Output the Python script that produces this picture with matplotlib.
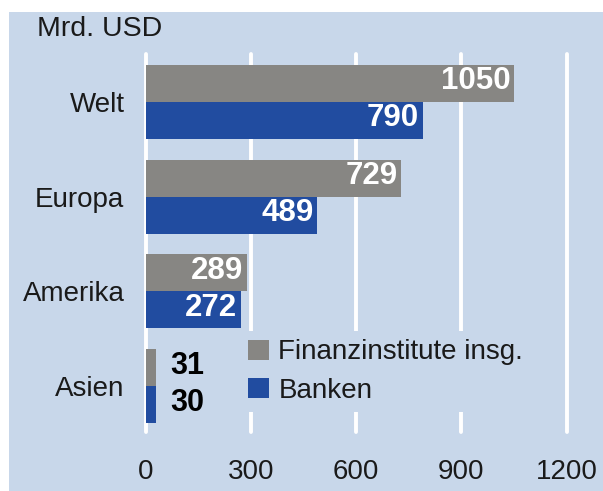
import numpy as np
import matplotlib
matplotlib.use('Agg')
import matplotlib.pyplot as plt
from matplotlib.patches import Rectangle, Patch

# data
regions = ['Welt', 'Europa', 'Amerika', 'Asien']
finanz = [1050, 729, 289, 31]
banken = [790, 489, 272, 30]
series_names = ['Finanzinstitute insg.', 'Banken']
xticks = [0, 300, 600, 900, 1200]
unit = 'Mrd. USD'

# colours
panel_col = '#c8d7ea'
grey_col = '#878683'
blue_col = '#214ca0'
text_col = '#1a1a1a'

plt.rcParams['font.family'] = ['Liberation Sans', 'DejaVu Sans']
fs = 20

W, H = 603, 491
fig = plt.figure(figsize=(W / 100, H / 100), dpi=100)
fig.patch.set_facecolor('white')

# blue panel behind everything (pixel box 9..603 x 12..491)
fig.patches.append(Rectangle((9 / W, 0), 1 - 9 / W, 1 - 12 / H,
                             transform=fig.transFigure, facecolor=panel_col,
                             edgecolor='none', zorder=-5))

# axes box in pixels
ax_l, ax_r, ax_t, ax_b = 130, 590, 45, 440
ax = fig.add_axes([ax_l / W, 1 - ax_b / H, (ax_r - ax_l) / W, (ax_b - ax_t) / H])
ax.set_zorder(1)
ax.set_facecolor('none')
for s in ax.spines.values():
    s.set_visible(False)

pxu = 0.3509          # pixels per unit
x0 = 145.5            # pixel of value 0
ax.set_xlim((ax_l - x0) / pxu, (ax_r - x0) / pxu)
step = 94.67          # pixels between groups
y0 = 102              # pixel of first group centre
ax.set_ylim((ax_b - y0) / step, (ax_t - y0) / step)

y = np.arange(len(regions))
h = 37 / step

# white vertical grid lines
ax.vlines(xticks, (54 - y0) / step, (432 - y0) / step, colors='white',
          linewidth=2.8, zorder=1, capstyle='round')

ax.barh(y - h / 2, finanz, height=h, color=grey_col, zorder=2)
ax.barh(y + h / 2, banken, height=h, color=blue_col, zorder=2)

# value labels
for vals, off in ((finanz, -h / 2), (banken, h / 2)):
    for i, v in enumerate(vals):
        if v > 100:
            ax.annotate(str(v), (v, i + off), xytext=(-2.5, 1.5), textcoords='offset points',
                        ha='right', va='center', color='white', fontsize=22.5,
                        fontweight='bold', zorder=3)
        else:
            ax.annotate(str(v), (v, i + off), xytext=(10, 1), textcoords='offset points',
                        ha='left', va='center', color='black', fontsize=22,
                        fontweight='bold', zorder=3)

ax.set_yticks(y)
ax.set_yticklabels(regions, fontsize=fs, color=text_col)
ax.set_xticks(xticks)
ax.set_xticklabels([str(t) for t in xticks], fontsize=fs, color=text_col)
ax.tick_params(axis='y', length=0, pad=4)
ax.tick_params(axis='x', length=0, pad=14)

fig.text(37 / W, 1 - 29 / H, unit, fontsize=20.5, color=text_col, ha='left', va='center')

handles = [Patch(facecolor=grey_col, edgecolor='none'),
           Patch(facecolor=blue_col, edgecolor='none')]
leg = ax.legend(handles, series_names, loc='upper left',
                bbox_to_anchor=((240 - ax_l) / (ax_r - ax_l), (ax_b - 331) / (ax_b - ax_t)),
                borderaxespad=0, fontsize=fs, frameon=True, facecolor=panel_col,
                edgecolor='none', framealpha=1, fancybox=False, handlelength=0.75,
                handleheight=0.72, handletextpad=0.33, labelspacing=0.45, borderpad=0.3)
for t in leg.get_texts():
    t.set_color(text_col)
leg.set_zorder(4)

fig.savefig('out.png', dpi=100, facecolor=fig.get_facecolor())
